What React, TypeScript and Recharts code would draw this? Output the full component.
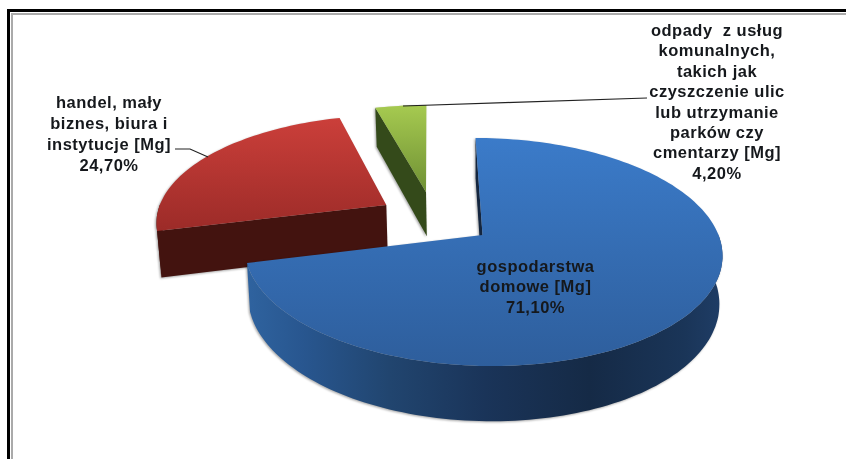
import React from 'react';
import { PieChart, Pie } from 'recharts';

// drawn back to front, counter-clockwise from 12 o'clock, so the big slice ends up on top
const sliceNames = [
  'odpady z usług komunalnych',
  'handel, mały biznes, biura i instytucje',
  'gospodarstwa domowe',
];
const sliceShares = [4.2, 24.7, 71.1];
const labelTexts = [
  ['odpady  z usług', 'komunalnych,', 'takich jak', 'czyszczenie ulic', 'lub utrzymanie', 'parków czy', 'cmentarzy [Mg]'],
  ['handel, mały', 'biznes, biura i', 'instytucje [Mg]'],
  ['gospodarstwa', 'domowe [Mg]'],
];

const chartData = sliceNames.map((name, i) => ({ name, value: sliceShares[i] }));

// pie lies on a tilted plane, so a circle point goes through a small perspective map
const TILT = 0.149;
const FLAT = 111.5;
const SHEAR = 8;
const DEPTH = 47;
const DEPTH_SHRINK = 0.987;

const looks = [
  {
    ox: -0.24, oy: -0.41,
    top: ['#a6ca50', '#6f9034'],
    wall: [[0, '#3f5420'], [1, '#2e4016']],
    face: '#344a1a',
  },
  {
    ox: -0.415, oy: -0.28,
    top: ['#cb3f3a', '#9c2b28'],
    wall: [[0, '#43130f'], [1, '#43130f']],
    face: '#43130f',
  },
  {
    ox: 0, oy: 0,
    top: ['#3b7bc9', '#2e5e9c'],
    wall: [[0, '#2f639f'], [0.12, '#28568f'], [0.3, '#21456f'], [0.5, '#1a3459'], [0.72, '#152a46'], [0.92, '#1a3558'], [1, '#1f3d66']],
    face: '#14263f',
  },
];

const labelSpots = [
  { x: 717, y: 36, gap: 20.4, leader: '403,106 647,98' },
  { x: 109, y: 107.5, gap: 21, leader: '175,149 190,149 208,157' },
  { x: 535.5, y: 271.5, gap: 20.7, leader: '' },
];

const toPath = (pts: number[][]) => 'M' + pts.map((p) => `${p[0].toFixed(1)},${p[1].toFixed(1)}`).join('L') + 'Z';

const Slice = (props: any) => {
  const { cx, cy, outerRadius, startAngle, endAngle, index } = props;
  const look = looks[index];
  const project = (u: number, v: number) => {
    const w = 1 - TILT * v;
    return [cx + (outerRadius * u + SHEAR * v) / w, cy + (FLAT * v) / w, w];
  };
  const drop = (p: number[]) => [cx + (p[0] - cx) * DEPTH_SHRINK, p[1] + DEPTH / p[2]];
  const onRim = (deg: number) => {
    const a = (deg * Math.PI) / 180;
    return project(look.ox + Math.sin(a), look.oy - Math.cos(a));
  };

  const from = 90 - endAngle;
  const to = 90 - startAngle;
  const rim: number[][] = [];
  const front: number[][] = [];
  const steps = Math.ceil((to - from) / 1.5);
  for (let i = 0; i <= steps; i++) {
    const deg = from + ((to - from) * i) / steps;
    const p = onRim(deg);
    rim.push(p);
    // only the part of the rim turned towards the viewer shows a wall
    if (Math.cos((deg * Math.PI) / 180) < 0.02) front.push(p);
  }
  const apex = project(look.ox, look.oy);
  const first = rim[0];

  const xs = rim.map((p) => p[0]);
  const left = Math.min(...xs);
  const right = Math.max(...xs);

  return (
    <g style={{ filter: 'drop-shadow(-1px 1.5px 1px rgba(0,0,0,0.35))' }}>
      <defs>
        <linearGradient id={`top${index}`} x1="0" y1="0" x2="0" y2="1">
          <stop offset="0" stopColor={look.top[0]} />
          <stop offset="1" stopColor={look.top[1]} />
        </linearGradient>
        <linearGradient id={`wall${index}`} gradientUnits="userSpaceOnUse" x1={left} y1="0" x2={right} y2="0">
          {look.wall.map((s, i) => (
            <stop key={i} offset={s[0] as number} stopColor={s[1] as string} />
          ))}
        </linearGradient>
      </defs>
      <path d={toPath([first, apex, drop(apex), drop(first)])} fill={look.face} />
      {front.length > 1 && <path d={toPath([...front, ...front.map(drop).reverse()])} fill={`url(#wall${index})`} />}
      <path d={toPath([apex, ...rim])} fill={`url(#top${index})`} />
    </g>
  );
};

const SliceLabel = (props: any) => {
  const { index } = props;
  const spot = labelSpots[index];
  const rows = [...labelTexts[index], `${sliceShares[index].toFixed(2).replace('.', ',')}%`];
  return (
    <g>
      {spot.leader && <polyline points={spot.leader} fill="none" stroke="#222" strokeWidth={1.2} />}
      <text
        textAnchor="middle"
        fontFamily='"Liberation Sans", Arial, sans-serif'
        fontWeight="bold"
        fontSize={16.5}
        letterSpacing={0.5}
        fill="#15181c"
        style={{ whiteSpace: 'pre' }}
      >
        {rows.map((row, i) => (
          <tspan key={i} x={spot.x} y={spot.y + i * spot.gap}>
            {row}
          </tspan>
        ))}
      </text>
    </g>
  );
};

const App: React.FC = () => {
  return (
    <div style={{ position: 'absolute', left: 0, top: 0, width: 846, height: 459, overflow: 'hidden', background: '#fff' }}>
      <div style={{ position: 'absolute', left: 7, top: 9, width: 900, height: 500, borderTop: '3px solid #000', borderLeft: '3px solid #000' }} />
      <div style={{ position: 'absolute', left: 11, top: 13, width: 900, height: 500, borderTop: '2px solid #aaa', borderLeft: '2px solid #aaa' }} />
      <div style={{ position: 'absolute', left: 0, top: 0, filter: 'blur(0.4px)' }}>
        <PieChart width={846} height={459} margin={{ top: 0, right: 0, bottom: 0, left: 0 }}>
          <Pie
            data={chartData}
            dataKey="value"
            cx={482.5}
            cy={235}
            outerRadius={236}
            startAngle={90}
            endAngle={450}
            stroke="none"
            shape={Slice}
            activeShape={Slice}
            inactiveShape={Slice}
            label={SliceLabel}
            labelLine={false}
            isAnimationActive={false}
          />
        </PieChart>
      </div>
    </div>
  );
};

export default App;
